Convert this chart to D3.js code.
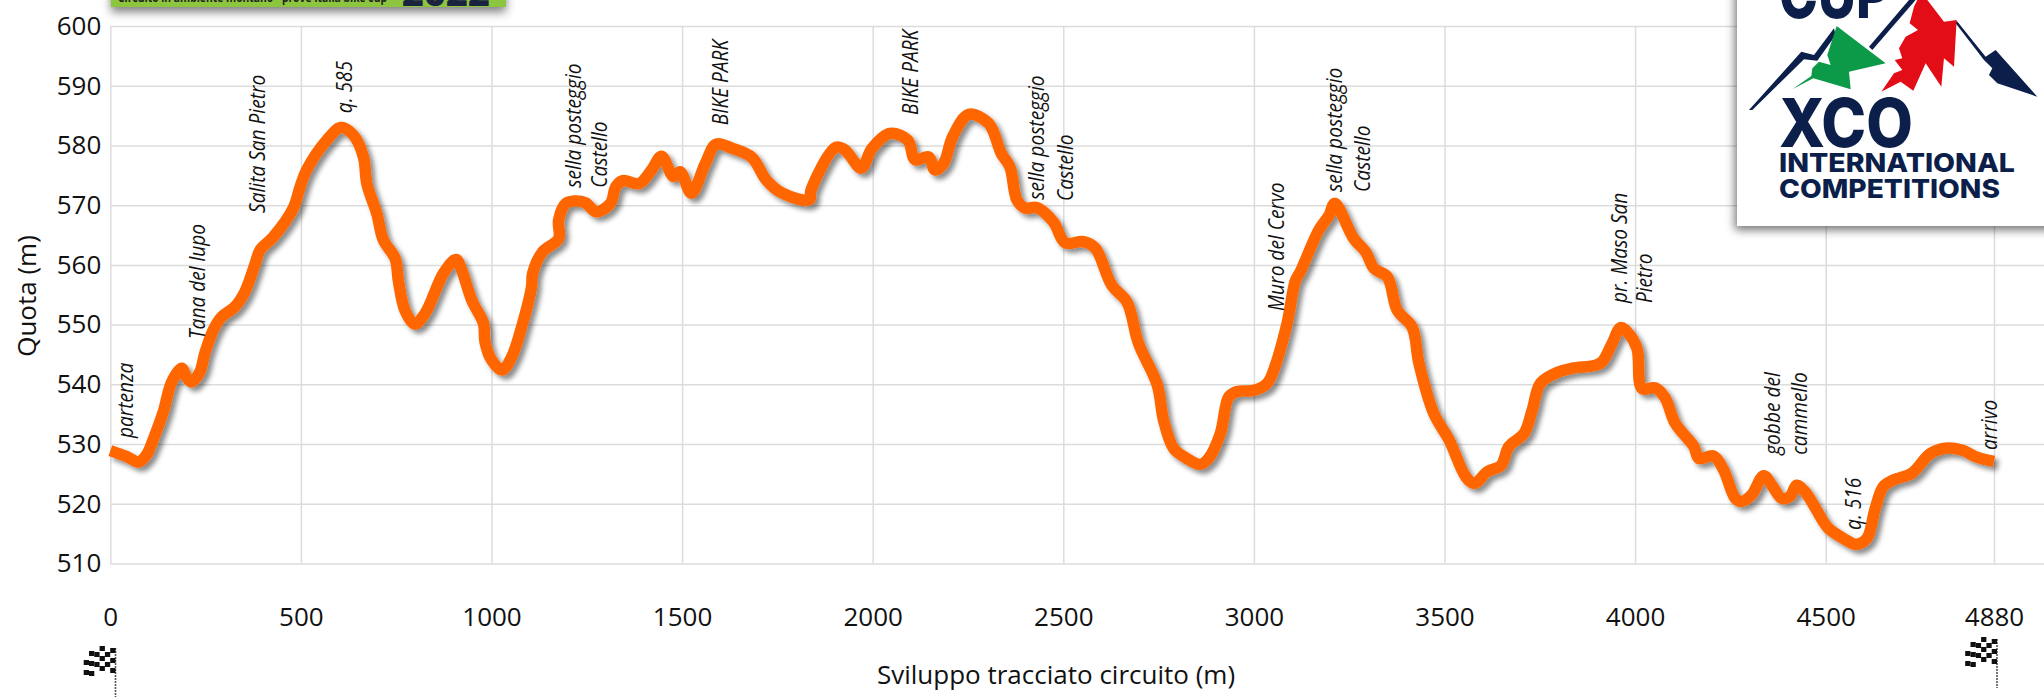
<!DOCTYPE html>
<html>
<head>
<meta charset="utf-8">
<script src="https://cdn.jsdelivr.net/npm/d3@7"></script>
<style>
  html, body { margin: 0; padding: 0; background: #fff; }
  svg { display: block; font-family: "Open Sans", sans-serif; }
  .grid line { stroke: #dcdcdc; stroke-width: 1.5; }
  .grid text { font-family: "Open Sans", sans-serif; font-size: 26px; fill: #111; }
</style>
</head>
<body>
<svg width="2044" height="700"></svg>
<script>
var svg = d3.select("svg");

// track profile
var metres = [0,43,74,95,117,139,161,187,199,213,235,248,270,292,327,353,380,393,428,480,498,515,568,605,638,664,673,699,716,747,756,773,799,826,874,907,922,948,979,983,1000,1028,1053,1079,1105,1108,1134,1176,1176,1195,1218,1246,1275,1312,1326,1345,1387,1420,1446,1477,1495,1524,1561,1589,1632,1683,1721,1763,1834,1838,1904,1928,1970,1998,2045,2092,2111,2147,2163,2186,2210,2252,2304,2337,2360,2378,2400,2430,2474,2505,2553,2584,2627,2667,2697,2746,2763,2789,2816,2859,2881,2912,2934,2956,3000,3035,3052,3087,3109,3122,3170,3197,3212,3262,3293,3315,3350,3376,3415,3433,3472,3512,3556,3578,3613,3648,3669,3709,3730,3752,3800,3835,3896,3914,3940,3962,3983,4005,4018,4053,4079,4105,4154,4167,4206,4232,4263,4280,4306,4337,4359,4385,4407,4424,4446,4494,4506,4540,4568,4593,4611,4630,4653,4694,4736,4770,4807,4841,4880];
var quota = [528.9,527.9,527,528.2,531.5,535.4,540.4,542.7,541.3,540.4,542.1,545.2,549.1,551.3,553,555.5,560.2,562.5,564.7,569.5,573.1,575.9,580.9,583,581.7,578.1,573.6,568.6,564.2,561.1,557.2,552.4,550.1,551.9,558.6,560.9,559.1,554.1,550.2,547.1,544.1,542.4,544.6,549.6,556.3,558.6,562.2,564.4,567.5,570.3,570.7,570.4,568.9,570.3,573.1,574.1,573.6,575.9,578.2,574.8,575.6,572,577,580.2,579.5,578,574.2,572,570.9,572.5,579.7,579.2,576.2,579.5,582,580.9,577.6,578.1,575.9,577,581.5,585.2,583.7,578.7,576.4,570.9,569.5,569.6,567.2,563.7,563.9,562.8,556.6,553.8,546.9,540,534,529.3,527.9,526.6,527.6,531.8,537.9,538.8,539,540.2,542.4,550.2,557.4,558.9,565.8,568.3,570.3,564.4,562.2,559.4,558,552.4,549.6,543.5,535.1,530.7,524.5,523.4,525.4,526.4,529.6,531.8,535.7,540.2,542.1,542.7,543.2,543.8,546.9,549.5,548.5,546,539.3,539.4,537.7,533.5,529.6,527.6,528,525.7,520.9,520.4,521.5,524.7,523.1,520.9,521.3,523.1,522,517,515.9,514.2,513.2,514.2,519,522.9,524,525.1,528.4,529.3,529,527.8,527.1];

var xTicks = [0,500,1000,1500,2000,2500,3000,3500,4000,4500,4880];
var yTicks = [510,520,530,540,550,560,570,580,590,600];

// notes along the track, each one anchored by its lower end
var noteText = ["partenza","Tana del lupo","Salita San Pietro","q. 585","sella posteggio","Castello","BIKE PARK","BIKE PARK","sella posteggio","Castello","Muro del Cervo","sella posteggio","Castello","pr. Maso San","Pietro","gobbe del","cammello","q. 516","arrivo"];
var noteMetres = [41,230,387,616,1215,1285,1602,2100,2431,2505,3060,3213,3284,3960,4026,4361,4432,4563,4871];
var noteQuota = [531,547.6,568.7,585.4,572.9,572.9,583.4,585.1,570.9,570.7,552.3,572.2,572.2,553.6,553.6,528.2,528.2,515.6,529];

// last stretch of the axis is drawn wider than the others in the original
var x = d3.scaleLinear().domain([0,4500,4880]).range([110.3,1825.7,1994]);
var y = d3.scaleLinear().domain([510,600]).range([563.5,26]);

var xAxis = d3.axisBottom(x).tickValues(xTicks).tickFormat(d3.format("d"))
  .tickSize(-(y(510)-y(600))).tickPadding(44);
var yAxis = d3.axisLeft(y).tickValues(yTicks)
  .tickSize(-(2044-x(0))).tickPadding(9);

svg.append("g").attr("class","grid").attr("transform","translate(0,"+y(510)+")").call(xAxis)
  .call(function(g){ g.select(".domain").remove(); });
svg.append("g").attr("class","grid").attr("transform","translate("+x(0)+",0)").call(yAxis)
  .call(function(g){ g.select(".domain").remove(); });

// axis titles
svg.append("text").attr("transform","translate(27,296) rotate(-90)")
  .attr("text-anchor","middle").attr("dy",".35em").attr("font-size",26).attr("fill","#111").text("Quota (m)");
svg.append("text").attr("x",1056).attr("y",675)
  .attr("text-anchor","middle").attr("dy",".35em").attr("font-size",26).attr("fill","#111").text("Sviluppo tracciato circuito (m)");

// drop shadow shared by the line and the two boxes
var defs = svg.append("defs");
var shadow = defs.append("filter").attr("id","lineShadow")
  .attr("x","-5%").attr("y","-10%").attr("width","110%").attr("height","120%");
shadow.append("feDropShadow").attr("dx",4).attr("dy",4).attr("stdDeviation",2.5)
  .attr("flood-color","#000").attr("flood-opacity",0.45);

var line = d3.line()
  .x(function(d){ return x(d[0]); })
  .y(function(d){ return y(d[1]); })
  .curve(d3.curveCatmullRom.alpha(0.5));

svg.append("path").datum(d3.zip(metres,quota))
  .attr("d",line).attr("fill","none")
  .attr("stroke","#ff6600").attr("stroke-width",11.5).attr("stroke-linejoin","round")
  .attr("filter","url(#lineShadow)");

// the notes are taller and narrower than plain Open Sans, so squeeze them along the text
svg.selectAll(".note").data(noteText).enter().append("text")
  .attr("class","note")
  .attr("transform",function(d,i){ return "translate("+x(noteMetres[i])+","+y(noteQuota[i])+") rotate(-90) scale(0.91,1)"; })
  .attr("dy",".35em").attr("font-size",21).attr("font-style","italic").attr("fill","#111")
  .text(function(d){ return d; });

// chequered flags
var flagDrop = [0,-1,-2,-1,3,7];
var drawFlag = function(px, py){
  var g = svg.append("g").attr("transform","translate("+px+","+py+")");
  g.append("line").attr("x1",0).attr("x2",0).attr("y1",0).attr("y2",49)
    .attr("stroke","#555").attr("stroke-width",1.6).attr("stroke-dasharray","2 1");
  d3.range(6).forEach(function(c){
    d3.range(5).forEach(function(r){
      if((c+r)%2==0){
        g.append("rect").attr("x",-(c+1)*5.3).attr("y",flagDrop[c]+r*5)
          .attr("width",5.3).attr("height",5).attr("fill","#111");
      }
    });
  });
};
drawFlag(115.5,648);
drawFlag(1997,639);

// green banner, cut by the top of the picture
var banner = svg.append("g");
banner.append("rect").attr("x",111).attr("y",-20).attr("width",395).attr("height",27)
  .attr("fill","#8cc63f").style("filter","drop-shadow(0px 5px 5px rgba(0,0,0,.5))");
banner.append("text").attr("x",118).attr("y",2).attr("font-size",13).attr("font-weight",700)
  .attr("textLength",269).attr("lengthAdjust","spacingAndGlyphs")
  .attr("fill","#222").text("Circuito in ambiente montano - prove Italia bike cup");
banner.append("text").attr("x",402).attr("y",6).attr("font-size",36).attr("font-weight",800)
  .attr("textLength",88).attr("lengthAdjust","spacingAndGlyphs").attr("fill","#1a2340").text("2022");

// logo box top right
var logo = svg.append("g");
logo.append("rect").attr("x",1737).attr("y",-20).attr("width",330).attr("height",246)
  .attr("fill","#fff").style("filter","drop-shadow(-2px 4px 5px rgba(0,0,0,.55))");

var navy = "#0c1f4a";
var art = logo.append("g").attr("transform","translate(1724,0) scale(0.3333)");
art.append("polygon").attr("fill",navy).attr("points","75,330 232,155 270,165 330,85 335,105 280,182 240,178 85,330");
art.append("polygon").attr("fill",navy).attr("points","435,140 555,0 575,0 445,150");
art.append("polygon").attr("fill",navy).attr("points","698,62 785,170 815,150 940,290 820,250 795,225 805,205 780,180 695,70");
art.append("polygon").attr("fill","#0d9a48").attr("points","338,78 485,190 375,215 380,268 268,235 205,268 262,228 265,205 285,185 320,195 310,165");
art.append("polygon").attr("fill","#e30d17").attr("points","580,0 610,0 660,65 698,60 690,200 660,175 652,260 605,190 568,272 530,245 472,275 510,220 535,210 512,180 535,175 525,145 545,110 582,90 557,70 570,20");

var logoWords = ["CUP","XCO","INTERNATIONAL","COMPETITIONS"];
var wordX = [1779,1779,1779,1779];
var wordY = [18,147,172,198];
var wordLen = [111,134,236,221];
var wordSize = [68,68,26,26];
logo.selectAll(".word").data(logoWords).enter().append("text")
  .attr("class","word")
  .attr("x",function(d,i){ return wordX[i]; })
  .attr("y",function(d,i){ return wordY[i]; })
  .attr("font-size",function(d,i){ return wordSize[i]; })
  .attr("textLength",function(d,i){ return wordLen[i]; })
  .attr("lengthAdjust","spacingAndGlyphs")
  .attr("font-family","Inter, sans-serif").attr("font-weight",800).attr("fill",navy)
  .text(function(d){ return d; });
</script>
</body>
</html>
